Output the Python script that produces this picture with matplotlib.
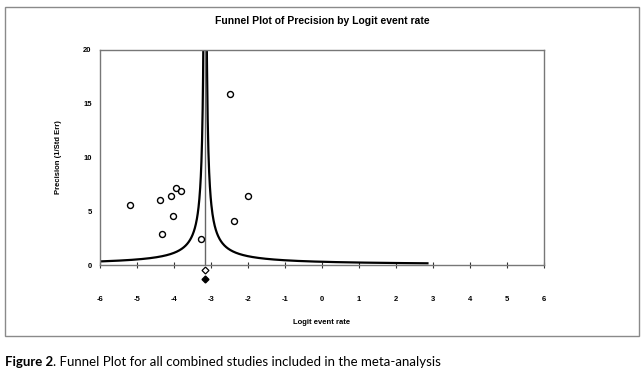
import numpy as np
import matplotlib.pyplot as plt
from matplotlib.patches import Rectangle

# study points (logit event rate, precision)
logit_rate = [-5.18, -4.39, -4.33, -4.08, -4.02, -3.94, -3.80, -3.27, -2.49, -2.38, -2.00]
precision = [5.58, 6.05, 2.85, 6.39, 4.59, 7.16, 6.88, 2.42, 15.88, 4.09, 6.45]

# combined estimate and the two diamonds below the axis
center = -3.16
diamond_open_y = -0.5
diamond_filled_y = -1.3
funnel_k = 0.95
funnel_right_end = 2.85

x_ticks = [-6, -5, -4, -3, -2, -1, 0, 1, 2, 3, 4, 5, 6]
y_ticks = [0, 5, 10, 15, 20]

plt.rcParams['font.family'] = ['Liberation Sans', 'DejaVu Sans']
plt.rcParams['axes.unicode_minus'] = False

fig = plt.figure(figsize=(6.44, 3.86), dpi=100)
fig.patches.append(Rectangle((5 / 644, 50 / 386), 634 / 644, 329 / 386,
                             transform=fig.transFigure, fill=False,
                             edgecolor='#8a8a8a', linewidth=1.0))

ax = fig.add_axes([100 / 644, 121 / 386, 444 / 644, 215 / 386])

# funnel curves
xl = np.linspace(-6.5, center - 0.01, 600)
ax.plot(xl, funnel_k / (center - xl), color='black', lw=1.6)
xr = np.linspace(center + 0.01, funnel_right_end, 600)
ax.plot(xr, funnel_k / (xr - center), color='black', lw=1.6)
ax.plot([center, center], [0, 20], color='#666666', lw=1.0)

ax.plot(logit_rate, precision, 'o', mfc='white', mec='black', ms=4.3, mew=1.0)
ax.plot([center], [diamond_open_y], 'D', mfc='white', mec='black', ms=3.5,
        mew=0.9, clip_on=False)
ax.plot([center], [diamond_filled_y], 'D', mfc='black', mec='black', ms=3.5,
        clip_on=False)

ax.set_xlim(-6, 6)
ax.set_ylim(0, 20)
ax.set_xticks(x_ticks)
ax.set_yticks(y_ticks)
for s in ax.spines.values():
    s.set_color('#777777')
    s.set_linewidth(1.0)
ax.tick_params(axis='x', direction='inout', length=4, width=0.8, pad=20,
               labelsize=5.5, color='#333333')
ax.tick_params(axis='y', length=0, pad=6, labelsize=5.5)
for lab in ax.get_xticklabels() + ax.get_yticklabels():
    lab.set_fontweight('bold')

ax.set_xlabel('Logit event rate', fontsize=5.5, fontweight='bold', labelpad=12)
ax.set_ylabel('Precision (1/Std Err)', fontsize=5.5, fontweight='bold', labelpad=15)

fig.text(322 / 644, 1 - 21 / 386, 'Funnel Plot of Precision by Logit event rate',
         ha='center', va='center', fontsize=7.5, fontweight='bold')

cap1 = fig.text(5 / 644, 1 - 362 / 386, 'Figure 2', ha='left', va='center',
                fontsize=9.5, fontweight='bold', family='Lato')
fig.canvas.draw()
bb = cap1.get_window_extent()
fig.text(bb.x1 / 644, 1 - 362 / 386,
         '. Funnel Plot for all combined studies included in the meta-analysis',
         ha='left', va='center', fontsize=9.5, family='Lato')

fig.savefig('out.png', dpi=100)
